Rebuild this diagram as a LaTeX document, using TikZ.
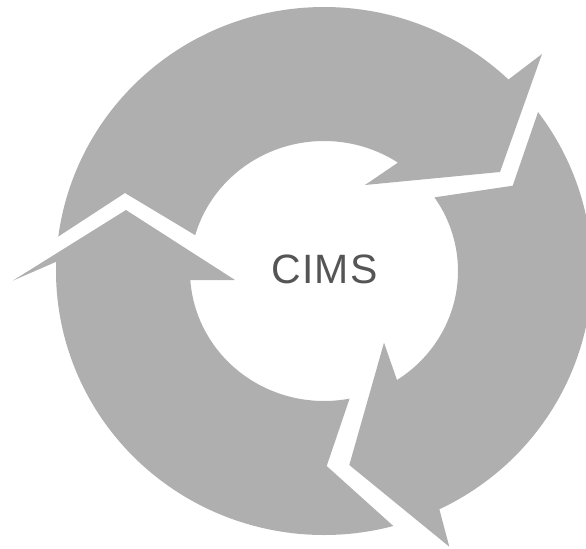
\documentclass[tikz,border=0pt]{standalone}
\usepackage{fontspec}
\setmainfont{Liberation Sans}
\usepackage{tikz}
\definecolor{arrowgray}{RGB}{175,175,175}
\definecolor{textgray}{RGB}{85,85,85}

\begin{document}
\begin{tikzpicture}[x=0.03cm, y=0.03cm,
    segment/.style = {fill=arrowgray, draw=none}]
        \useasboundingbox (-324, -277) rectangle (262, 271);

        % top segment
        \fill[segment]
        (172.5:268 and 264) -- (-199, 78) -- (164:134 and 130)
        arc[start angle=164, end angle=56.5, x radius=134, y radius=130]
        -- (41, 86) -- (176, 99) -- (218, 217) -- (46.5:268 and 264)
        arc[start angle=46.5, end angle=172.5, x radius=268, y radius=264]
        -- cycle;

        % right segment
        \fill[segment]
        (37:268 and 264) -- (188.7, 85.3) -- (34.5:134 and 130)
        arc[start angle=34.5, end angle=-57, x radius=134, y radius=130]
        -- (60, -71.7) -- (25.3, -194) -- (125.3, -275.7) -- (-64.5:268 and 264)
        arc[start angle=-64.5, end angle=37, x radius=268, y radius=264]
        -- cycle;

        % bottom left segment
        \fill[segment]
        (-79:134 and 130) -- (2.7, -195) -- (-75:268 and 264)
        arc[start angle=-75, end angle=-182, x radius=268, y radius=264]
        -- (-311.3, -9.7) -- (-198, 61) -- (-89, -9) -- (-176:134 and 130)
        arc[start angle=-176, end angle=-79, x radius=134, y radius=130]
        -- cycle;

        \node[text=textgray, font=\fontsize{35}{40}\selectfont\addfontfeature{LetterSpace=3}] (cims) at (0.5, 2) {CIMS};

    \end{tikzpicture}
\end{document}
